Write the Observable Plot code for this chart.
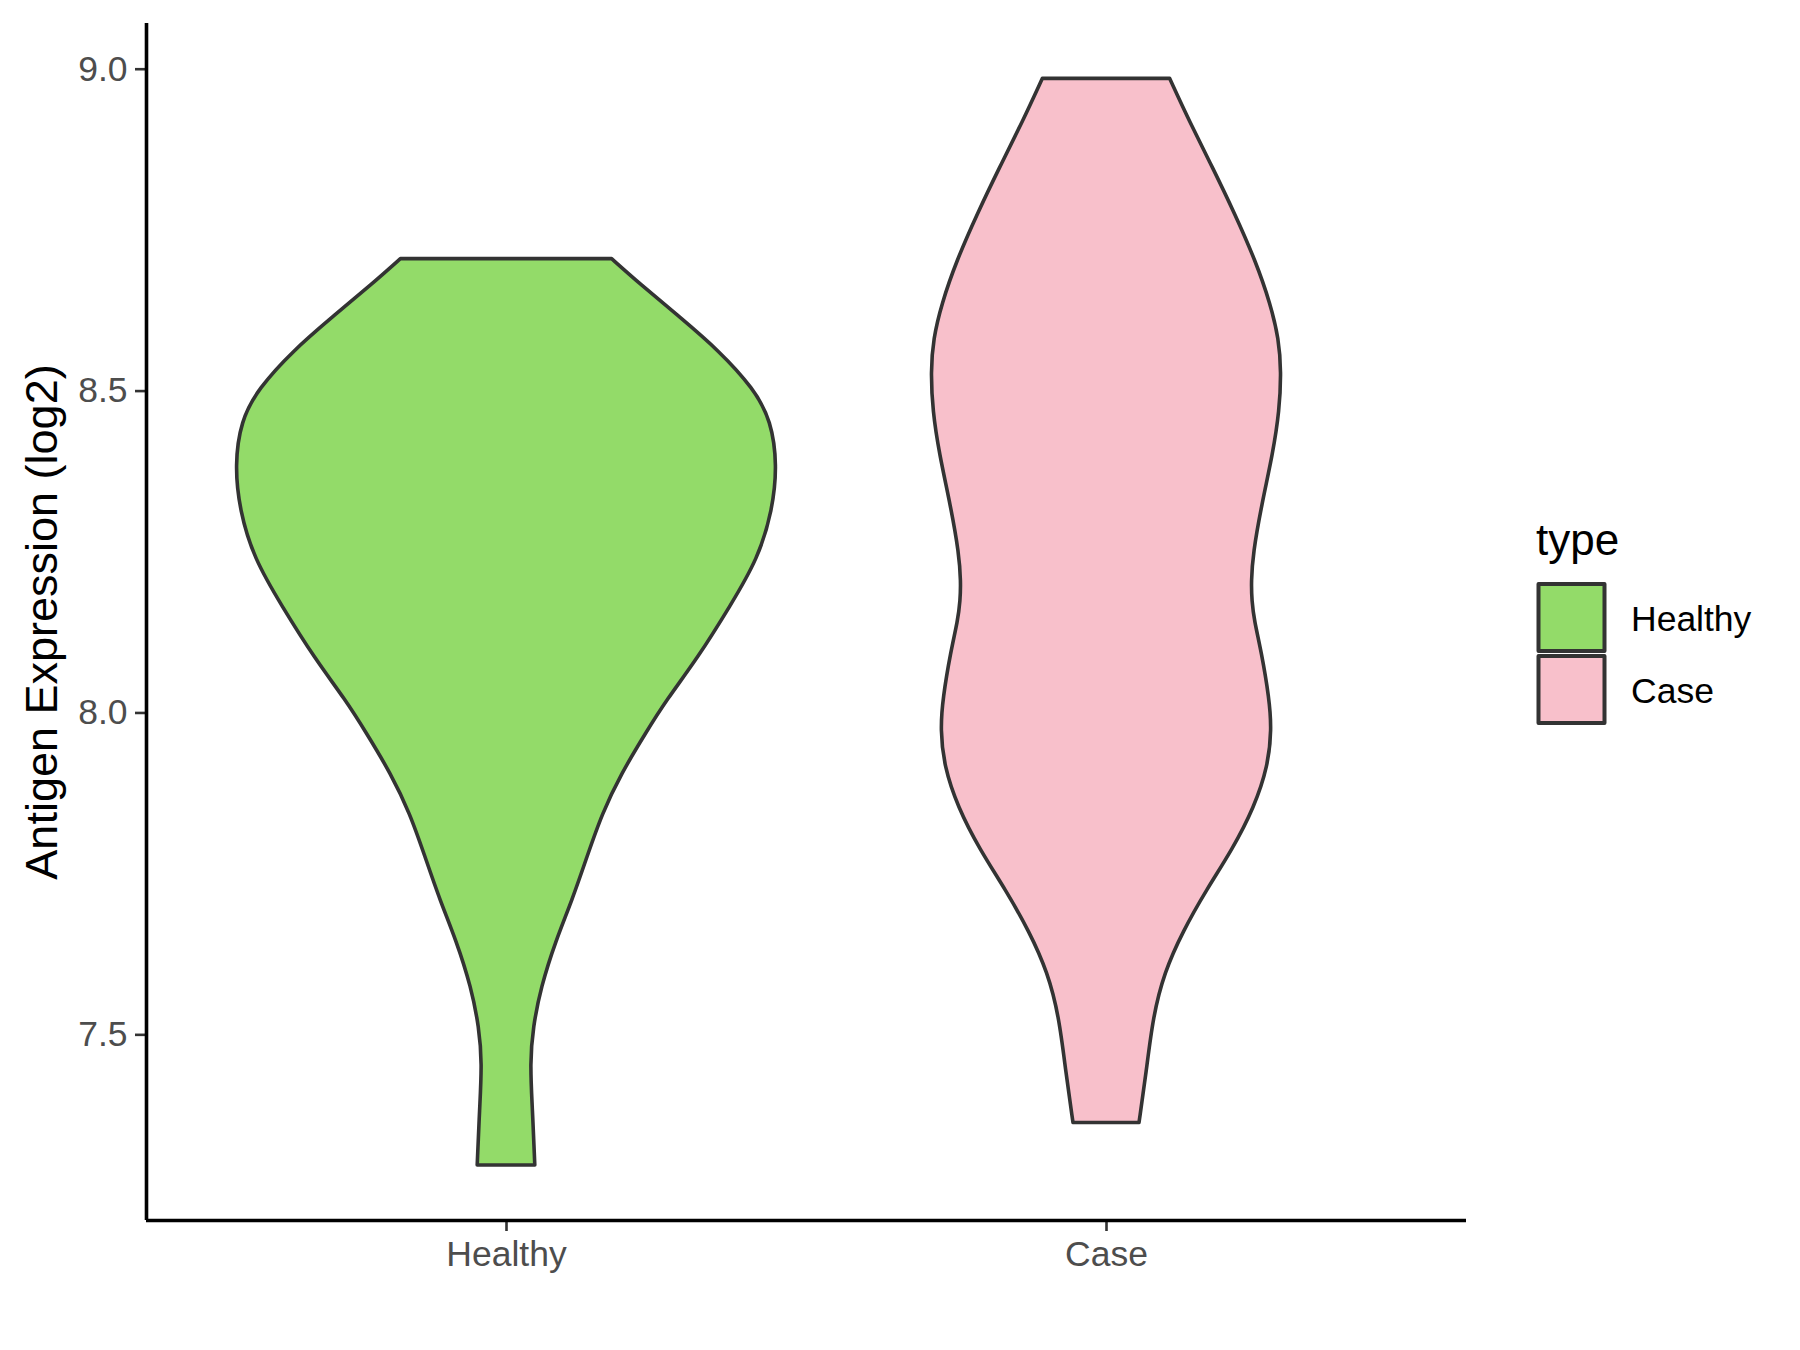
<!DOCTYPE html>
<html>
<head>
<meta charset="utf-8">
<script src="https://cdn.jsdelivr.net/npm/d3@7"></script>
<script src="https://cdn.jsdelivr.net/npm/@observablehq/plot@0.6"></script>
<style>
  html, body { margin: 0; padding: 0; background: #fff; }
  #wrap { position: relative; width: 1800px; height: 1350px; }
  #legend { position: absolute; left: 0; top: 0; }
</style>
</head>
<body>
<div id="wrap"></div>
<script>
// ---- Data ----
const categories = ["Healthy", "Case"];
const fillColors = ["#93DB69", "#F8C0CB"];
const yTicks = [7.5, 8.0, 8.5, 9.0];
const yTitle = "Antigen Expression (log2)";
const legendTitle = "type";

// Violin outline: expression values (top to bottom) and half-widths (in category units)
const healthyValues = [8.705, 8.666, 8.614, 8.562, 8.503, 8.453, 8.384, 8.314, 8.239, 8.166, 8.084, 8.019, 7.967, 7.905, 7.843, 7.776, 7.708, 7.646, 7.573, 7.511, 7.455, 7.385, 7.297];
const healthyHalfWidths = [0.176, 0.223, 0.290, 0.355, 0.413, 0.442, 0.452, 0.444, 0.420, 0.374, 0.319, 0.267, 0.232, 0.192, 0.160, 0.135, 0.110, 0.083, 0.058, 0.045, 0.040, 0.044, 0.048];

const caseValues = [8.985, 8.918, 8.846, 8.774, 8.702, 8.635, 8.580, 8.530, 8.469, 8.402, 8.321, 8.247, 8.203, 8.174, 8.143, 8.094, 8.022, 7.974, 7.917, 7.853, 7.788, 7.724, 7.660, 7.596, 7.526, 7.441, 7.363];
const caseHalfWidths = [0.106, 0.139, 0.178, 0.215, 0.249, 0.274, 0.288, 0.292, 0.289, 0.278, 0.259, 0.245, 0.242, 0.243, 0.247, 0.259, 0.272, 0.276, 0.270, 0.247, 0.211, 0.167, 0.128, 0.097, 0.078, 0.067, 0.055];

const yDomain = [7.2116, 9.071];
const xDomain = [0.4, 2.6];

// ---- Build table ----
const rows = [];
healthyValues.forEach((v, i) => rows.push({type: "Healthy", pos: 1, v, hw: healthyHalfWidths[i]}));
caseValues.forEach((v, i) => rows.push({type: "Case", pos: 2, v, hw: caseHalfWidths[i]}));

const font = "'Liberation Sans', Arial, Helvetica, sans-serif";

const chart = Plot.plot({
  width: 1800,
  height: 1350,
  marginLeft: 146,
  marginRight: 334,
  marginTop: 23,
  marginBottom: 130,
  x: {type: "linear", domain: xDomain},
  y: {domain: yDomain},
  color: {domain: categories, range: fillColors},
  style: {fontFamily: font, background: "white", overflow: "visible"},
  marks: [
    Plot.areaX(rows, {
      y: "v",
      x1: d => d.pos - d.hw,
      x2: d => d.pos + d.hw,
      fill: "type",
      z: "type",
      stroke: "#333333",
      strokeWidth: 3.6,
      strokeLinejoin: "round",
      curve: "basis"
    }),
    Plot.axisX({
      ticks: [1, 2],
      tickFormat: d => categories[d - 1],
      tickSize: 11,
      tickPadding: 9,
      fontSize: 35.5,
      fill: "#4D4D4D",
      stroke: "#333333",
      strokeWidth: 2.6,
      label: null
    }),
    Plot.axisY({
      ticks: yTicks,
      tickFormat: d3.format(".1f"),
      tickSize: 11,
      tickPadding: 8,
      fontSize: 35.5,
      fill: "#4D4D4D",
      stroke: "#333333",
      strokeWidth: 2.6,
      label: null
    }),
    Plot.ruleX([xDomain[0]], {stroke: "#000", strokeWidth: 3.6}),
    Plot.ruleY([yDomain[0]], {stroke: "#000", strokeWidth: 3.6}),
    Plot.text([yTitle], {
      text: d => d,
      frameAnchor: "left",
      textAnchor: "middle",
      rotate: -90,
      dx: -104,
      fontSize: 45,
      fill: "#000"
    })
  ]
});

const wrap = document.getElementById("wrap");
wrap.appendChild(chart);

// ---- Legend (to the right of the panel) ----
const leg = d3.select(wrap).append("svg")
  .attr("id", "legend")
  .attr("width", 1800).attr("height", 1350)
  .style("pointer-events", "none")
  .style("font-family", font);

leg.append("text")
  .attr("x", 1536).attr("y", 555)
  .attr("font-size", 44).attr("fill", "#000")
  .text(legendTitle);

categories.forEach((c, i) => {
  const y0 = 584 + i * 72;
  leg.append("rect")
    .attr("x", 1538.5).attr("y", y0)
    .attr("width", 66).attr("height", 67)
    .attr("fill", fillColors[i])
    .attr("stroke", "#333333")
    .attr("stroke-width", 4)
    .attr("stroke-linejoin", "round");
  leg.append("text")
    .attr("x", 1631).attr("y", y0 + 47)
    .attr("font-size", 35.5).attr("fill", "#000")
    .text(c);
});
</script>
</body>
</html>
